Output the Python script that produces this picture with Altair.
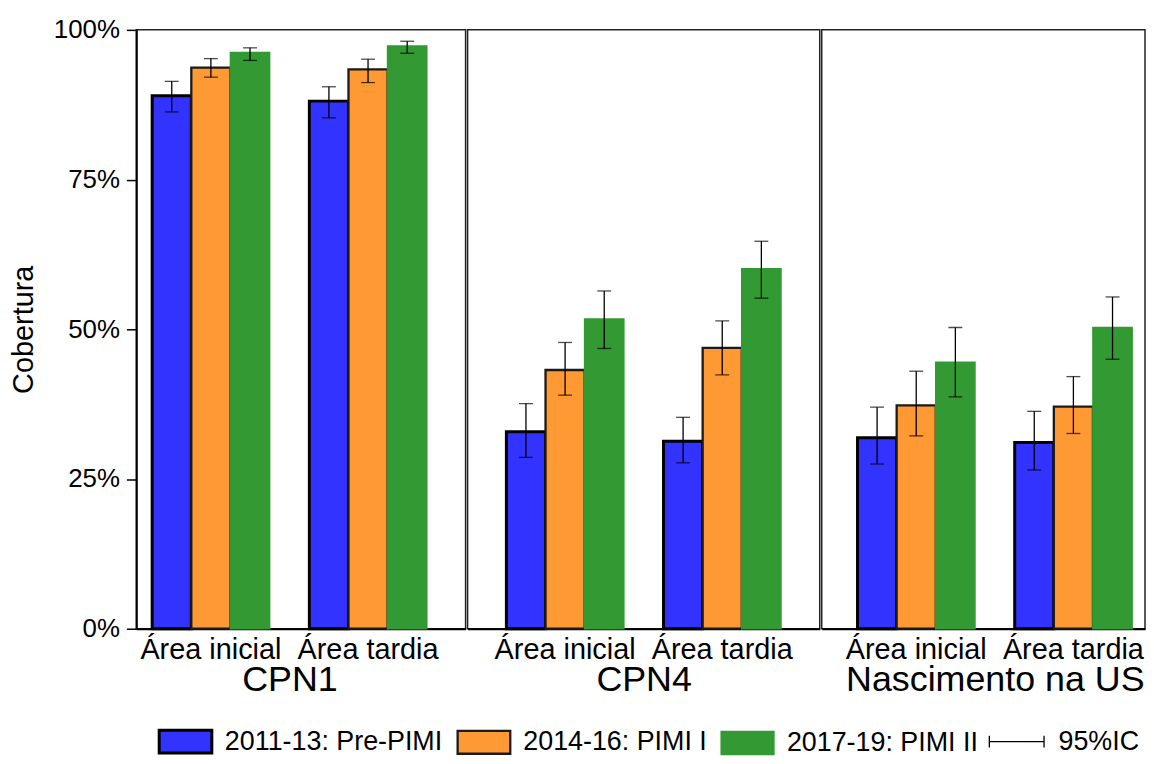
import altair as alt
import pandas as pd

indicadores = ["CPN1", "CPN4", "Nascimento na US"]
areas = ["Área inicial", "Área tardia"]
periodos = ["2011-13: Pre-PIMI", "2014-16: PIMI I", "2017-19: PIMI II"]
cores = ["#3333FF", "#FF9933", "#339933"]

# order: indicator -> area -> period
cobertura = [89.0, 93.7, 96.2, 88.1, 93.4, 97.3,
             32.9, 43.2, 51.7, 31.3, 46.9, 60.1,
             31.9, 37.3, 44.5, 31.1, 37.1, 50.3]
ic_inferior = [86.3, 92.1, 94.9, 85.3, 91.2, 96.1,
               28.6, 39.0, 46.8, 27.7, 42.4, 55.2,
               27.5, 32.2, 38.7, 26.5, 32.6, 45.0]
ic_superior = [91.4, 95.2, 97.0, 90.5, 95.1, 98.1,
               37.6, 47.8, 56.4, 35.3, 51.4, 64.7,
               37.0, 43.0, 50.3, 36.3, 42.1, 55.4]

rows = []
idx = 0
for ind in indicadores:
    for ar in areas:
        for per in periodos:
            rows.append({"indicador": ind, "area": ar, "periodo": per,
                         "cobertura": cobertura[idx], "ic_inf": ic_inferior[idx],
                         "ic_sup": ic_superior[idx], "ic": "95%IC"})
            idx += 1
df = pd.DataFrame(rows)

LEG_Y = 702

# symbol laid out as a 23px square; the drawn rectangle extends to the right (53x23)
leg = alt.Legend(title=None, orient="none", legendX=21, legendY=LEG_Y, direction="horizontal",
                 symbolType="M-1,-1H3.6V1H-1Z", symbolSize=529, labelFontSize=27,
                 labelColor="black", labelOffset=41, columnPadding=10, labelLimit=400,
                 symbolOpacity=1)

leg_ic = alt.Legend(title=None, orient="none", legendX=854, legendY=LEG_Y, direction="horizontal",
                    symbolType="M-1,0H4.5M-1,-0.6V0.6M4.5,-0.6V0.6", symbolSize=400,
                    symbolStrokeColor="black", symbolStrokeWidth=1.3,
                    symbolFillColor="transparent", labelFontSize=27, labelColor="black",
                    labelOffset=46, labelLimit=200)

y_axis = alt.Axis(values=[0, 25, 50, 75, 100], labelExpr="datum.value + '%'",
                  grid=False, domainColor="black", domainWidth=2, tickColor="black",
                  tickWidth=1.5, tickSize=10, labelPadding=7, labelFontSize=26,
                  labelColor="black", title="Cobertura", titleFontSize=29,
                  titleFontWeight="normal", titleColor="black", titlePadding=15)

# (panel width, outer padding, band alignment, title x)
layout = {
    "CPN1": (331, 0.174, 0.29, 154),
    "CPN4": (354, 0.247, 0.5, 177),
    "Nascimento na US": (325, 0.155, 0.735, 174),
}


def painel(ind, first):
    w, po, al, tx = layout[ind]
    d = df[df["indicador"] == ind]
    base = alt.Chart(d).encode(
        x=alt.X("area:N", sort=areas,
                scale=alt.Scale(paddingInner=0.253, paddingOuter=po, align=al),
                axis=alt.Axis(labelAngle=0, ticks=False, domainColor="black", domainWidth=2,
                              labelFontSize=29, labelPadding=7, labelColor="black",
                              title=ind, titleFontSize=36, titleFontWeight="normal",
                              titleColor="black", titlePadding=-2, titleX=tx)),
        xOffset=alt.XOffset("periodo:N", sort=periodos,
                            scale=alt.Scale(domain=periodos, paddingInner=0, paddingOuter=0)),
    )
    ysc = alt.Scale(domain=[0, 100], nice=False)
    bars = base.mark_bar().encode(
        y=alt.Y("cobertura:Q", scale=ysc, axis=y_axis if first else None),
        fill=alt.Fill("periodo:N", sort=periodos,
                      scale=alt.Scale(domain=periodos, range=cores), legend=leg),
        stroke=alt.Stroke("periodo:N", sort=periodos,
                          scale=alt.Scale(domain=periodos, range=["#000000", "#1a1a1a", "#339933"]),
                          legend=leg),
        strokeWidth=alt.StrokeWidth("periodo:N", sort=periodos,
                                    scale=alt.Scale(domain=periodos, range=[3, 1.6, 0]),
                                    legend=leg),
    )
    yk = {} if first else {"axis": None}
    regras = base.mark_rule(color="black", strokeWidth=1.3).encode(
        y=alt.Y("ic_inf:Q", scale=ysc, **yk),
        y2="ic_sup:Q",
        strokeDash=alt.StrokeDash("ic:N", scale=alt.Scale(range=[[1, 0]]), legend=leg_ic),
    )
    cap_inf = base.mark_tick(color="black", size=14, thickness=1.3, orient="horizontal").encode(
        y=alt.Y("ic_inf:Q", scale=ysc, **yk))
    cap_sup = base.mark_tick(color="black", size=14, thickness=1.3, orient="horizontal").encode(
        y=alt.Y("ic_sup:Q", scale=ysc, **yk))
    return alt.layer(bars, regras, cap_inf, cap_sup).properties(width=w, height=602)


chart = alt.hconcat(
    painel("CPN1", True), painel("CPN4", False), painel("Nascimento na US", False),
    spacing=0,
).properties(
    padding={"left": 0, "top": 6, "right": 0, "bottom": 0}
).configure(font="Liberation Sans").configure_view(stroke="#222222", strokeWidth=1.5)

chart.save("out.html", embed_options={"renderer": "svg", "actions": False})
